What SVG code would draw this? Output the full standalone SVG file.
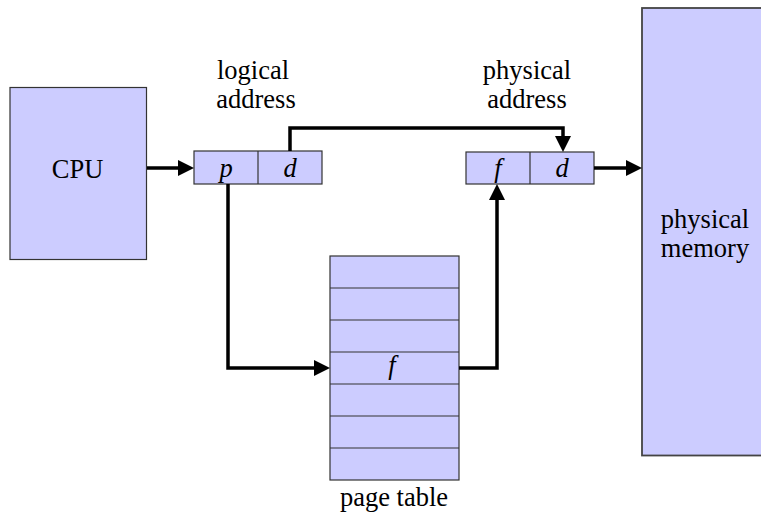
<svg xmlns="http://www.w3.org/2000/svg" width="761" height="519" viewBox="0 0 761 519">
<defs>
<style>
.box{fill:#ccccff;stroke:#333;stroke-width:1.2}
.mem{fill:#ccccff;stroke:#444;stroke-width:1.8}
.div{stroke:#333;stroke-width:1.2}
.t{font-family:"Liberation Serif","Times New Roman",serif;font-size:26.5px;fill:#000;text-anchor:middle}
.i{font-style:italic}
.c{fill:none;stroke:#000;stroke-width:3.5;marker-end:url(#ah)}
</style>
<marker id="ah" viewBox="0 0 16 16" refX="12" refY="8" markerWidth="16" markerHeight="16" markerUnits="userSpaceOnUse" orient="auto">
<path d="M0,0 L16,8 L0,16 z" fill="#000"/>
</marker>
</defs>
<rect width="761" height="519" fill="#fff"/>
<g id="cpu">
<rect class="box" x="10" y="87.5" width="136.5" height="172"/>
<text class="t" x="77.5" y="178">CPU</text>
</g>
<g id="logical-address">
<rect class="box" x="194" y="151" width="128" height="33"/>
<line class="div" x1="258" y1="151" x2="258" y2="184"/>
<text class="t i" x="226" y="177">p</text>
<text class="t i" x="290" y="177">d</text>
<text class="t" x="253" y="79">logical</text>
<text class="t" x="256" y="108">address</text>
</g>
<g id="physical-address">
<rect class="box" x="466" y="152" width="128" height="32"/>
<line class="div" x1="530" y1="152" x2="530" y2="184"/>
<text class="t i" x="498" y="177">f</text>
<text class="t i" x="562" y="177">d</text>
<text class="t" x="527" y="79">physical</text>
<text class="t" x="527" y="108">address</text>
</g>
<g id="physical-memory">
<rect class="mem" x="642" y="8" width="140" height="447.5"/>
<text class="t" x="705" y="228">physical</text>
<text class="t" x="705" y="257">memory</text>
</g>
<g id="page-table">
<rect class="box" x="330" y="256" width="129" height="224"/>
<line class="div" x1="330" y1="288" x2="459" y2="288"/>
<line class="div" x1="330" y1="320" x2="459" y2="320"/>
<line class="div" x1="330" y1="352" x2="459" y2="352"/>
<line class="div" x1="330" y1="384" x2="459" y2="384"/>
<line class="div" x1="330" y1="416" x2="459" y2="416"/>
<line class="div" x1="330" y1="448" x2="459" y2="448"/>
<text class="t i" x="392" y="374">f</text>
<text class="t" x="394" y="506">page table</text>
</g>
<g id="connectors">
<path class="c" d="M147,168 H190"/>
<path class="c" d="M290,151 V128 H563 V148"/>
<path class="c" d="M228,184 V368 H326"/>
<path class="c" d="M459,368 H497 V188"/>
<path class="c" d="M594,168 H638"/>
</g>
</svg>
